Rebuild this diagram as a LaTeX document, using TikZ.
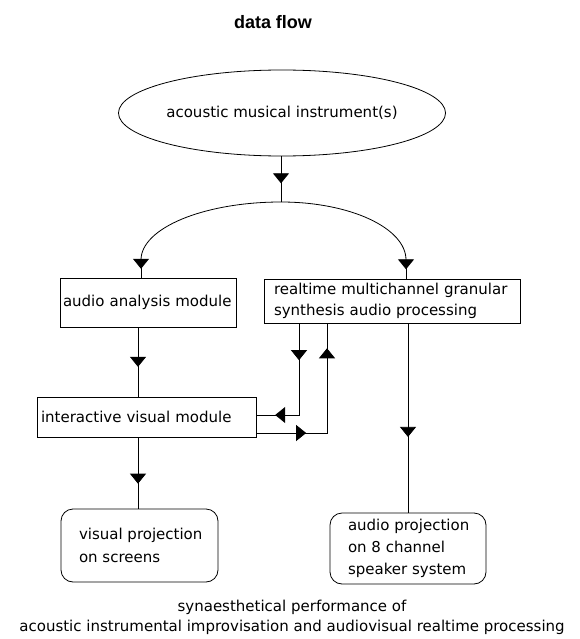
\documentclass[tikz,border=0pt]{standalone}
\usepackage{fontspec}
\setmainfont{DejaVu Sans}
\newfontfamily\titlefont{Liberation Sans}
\usetikzlibrary{shapes.geometric,arrows.meta,decorations.markings}
\tikzset{
  tri/.tip={Triangle[width=16pt,length=10pt]},
  midarrow/.style={postaction={decorate,decoration={markings,mark=at position #1 with {\arrow{tri}}}}},
  twoarrows/.style 2 args={postaction={decorate,decoration={markings,mark=at position #1 with {\arrow{tri}},mark=at position #2 with {\arrow{tri}}}}},
  txt/.style={font=\fontsize{15}{22}\selectfont},
  box/.style={draw, rectangle, align=left, inner ysep=0pt, txt},
  rbox/.style={draw, rectangle, rounded corners=12pt, inner sep=0pt},
  intxt/.style={txt, align=left, anchor=west, inner sep=0pt}
}
\begin{document}
\begin{tikzpicture}[x=1pt,y=-1pt,line width=0.8pt]
\path[fill=white,use as bounding box] (0,0) rectangle (579,639);

\node[font=\titlefont\bfseries\fontsize{18}{20}\selectfont] (title) at (273,22) {data flow};

\node[draw, ellipse, minimum width=276pt, minimum height=86pt, inner sep=0pt, txt] (ami) at (282,113) {acoustic musical instrument(s)};

\node[box, text width=170pt, inner xsep=3pt, minimum height=49pt] (aam) at (148,302.5) {audio analysis module};
\node[box, text width=236pt, inner xsep=10pt, minimum height=44pt, font=\fontsize{15}{21}\selectfont] (rms) at (392,301) {realtime multichannel granular\\synthesis audio processing};
\node[box, text width=211pt, inner xsep=4pt, minimum height=40pt] (ivm) at (146.5,417) {interactive visual module};

\node[rbox, minimum width=157pt, minimum height=73pt] (vp) at (139.5,545.5) {};
\node[intxt, font=\fontsize{15}{23}\selectfont] (vpt) at ([xshift=18pt]vp.west) {visual projection\\on screens};
\node[rbox, minimum width=156pt, minimum height=71pt] (ap) at (408,548.5) {};
\node[intxt] (apt) at ([xshift=18pt]ap.west) {audio projection\\on 8 channel\\speaker system};

\node[align=center, font=\fontsize{15}{20}\selectfont] (cap) at (292,617) {synaesthetical performance of\\acoustic instrumental improvisation and audiovisual realtime processing};

\coordinate (j) at (281,202);
\coordinate (la) at (141,260);
\coordinate (ra) at (406,260);
\coordinate (xl) at (138,0);
\coordinate (f1) at (299,415);
\coordinate (f2) at (327,433);

\draw[midarrow=0.59] (ami.south -| j) -- (j);
\draw (j) .. controls (204,202) and (141,228) .. (la);
\draw[midarrow=0.5] (la) -- (la |- aam.north);
\draw (j) .. controls (350,202) and (406,228) .. (ra);
\draw[midarrow=0.5] (ra) -- (ra |- rms.north);
\draw[midarrow=0.57] (aam.south -| xl) -- (ivm.north -| xl);
\draw[midarrow=0.65] (ivm.south -| xl) -- (vp.north -| xl);
\draw[midarrow=0.6] (rms.south -| ap.north) -- (ap.north);
\draw[twoarrows={0.274}{0.86}] (rms.south -| f1) -- (f1) -- (ivm.east |- f1);
\draw[twoarrows={0.276}{0.862}] (ivm.east |- f2) -- (f2) -- (rms.south -| f2);
\end{tikzpicture}
\end{document}
